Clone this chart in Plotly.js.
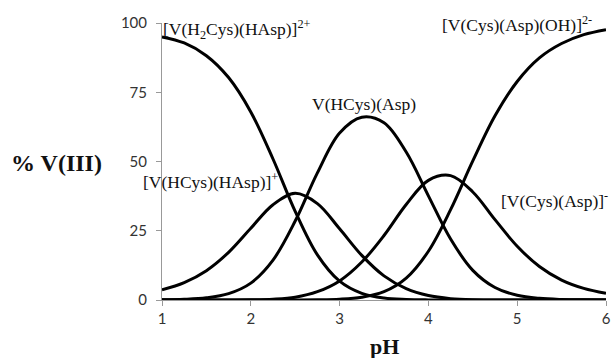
<!DOCTYPE html>
<html>
<head>
<meta charset="utf-8">
<script src="https://cdn.plot.ly/plotly-3.0.1.min.js"></script>
<style>html,body{margin:0;padding:0;background:#fff;}#chart{width:611px;height:358px;}</style>
</head>
<body>
<div id="chart"></div>
<script>
// pH values
var pH = [1,1.25,1.5,1.75,2,2.25,2.5,2.75,3,3.25,3.5,3.75,4,4.25,4.5,4.75,5,5.25,5.5,5.75,6];
// % V(III) of each species
var H2CysHAsp = [95.0,92.8,88.2,80.3,67.9,50.9,32.0,16.3,6.8,2.4,0.7,0.2,0.04,0.01,0,0,0,0,0,0,0];
var HCysHAsp  = [3.7,6.3,10.6,17.2,25.9,34.4,38.5,34.8,25.7,16.1,8.7,4.1,1.6,0.5,0.1,0.04,0.01,0,0,0,0];
var HCysAsp   = [0.09,0.26,0.79,2.3,6.1,14.4,28.5,45.9,60.3,66.0,64.0,53.4,37.6,22.0,10.7,4.5,1.7,0.6,0.2,0.07,0.02];
var CysAsp    = [0,0,0,0.02,0.07,0.3,1.0,3.0,6.9,13.7,23.3,34.5,43.2,44.9,39.0,29.0,19.4,12.1,7.2,4.2,2.4];
var CysAspOH  = [0,0,0,0,0,0,0.01,0.07,0.28,1.0,3.0,7.9,17.6,32.6,50.2,66.5,78.9,87.4,92.6,95.8,97.6];
var yTicks = [0,25,50,75,100];
var xTicks = [1,2,3,4,5,6];

var seriesList = [H2CysHAsp, HCysHAsp, HCysAsp, CysAsp, CysAspOH];
var traces = seriesList.map(function(s){
  return {x: pH, y: s, type: 'scatter', mode: 'lines',
    line: {color: '#000', width: 3, shape: 'spline', smoothing: 1},
    cliponaxis: false, hoverinfo: 'skip'};
});

var serif = 'Liberation Serif, Times New Roman, serif';
var lblFont = {family: serif, size: 17.5, color: '#111'};
function lbl(text, x, y){
  return {text: text, xref: 'paper', yref: 'paper', x: x, y: y,
    xanchor: 'left', yanchor: 'middle', showarrow: false, font: lblFont};
}

var layout = {
  width: 611, height: 358,
  margin: {l: 162, r: 5, t: 23, b: 58},
  paper_bgcolor: '#fff', plot_bgcolor: '#fff',
  showlegend: false,
  xaxis: {range: [1, 6], tickvals: xTicks, ticktext: xTicks.map(String),
    showgrid: false, zeroline: false, showline: true, linecolor: '#999', linewidth: 1,
    ticks: 'outside', ticklen: 5, tickcolor: '#999', tickwidth: 1,
    tickfont: {family: 'Lato, Open Sans, sans-serif', size: 15, color: '#333'}},
  yaxis: {range: [0, 100], tickvals: yTicks, ticktext: yTicks.map(String),
    showgrid: false, zeroline: false, showline: true, linecolor: '#999', linewidth: 1,
    ticks: 'outside', ticklen: 5, tickcolor: '#999', tickwidth: 1, ticklabelstandoff: 6,
    tickfont: {family: 'Lato, Open Sans, sans-serif', size: 15, color: '#333'}},
  annotations: [
    lbl('[V(H<sub>2</sub>Cys)(HAsp)]<sup>2+</sup>', -0.002, 0.975),
    lbl('V(HCys)(Asp)', 0.333, 0.708),
    lbl('[V(Cys)(Asp)(OH)]<sup>2-</sup>', 0.626, 0.995),
    lbl('[V(HCys)(HAsp)]<sup>+</sup>', -0.047, 0.431),
    lbl('[V(Cys)(Asp)]<sup>-</sup>', 0.758, 0.362),
    {text: '<b>% V(III)</b>', xref: 'paper', yref: 'paper', x: -0.2365, y: 0.494,
      xanchor: 'center', yanchor: 'middle', showarrow: false,
      font: {family: serif, size: 24, color: '#111'}},
    {text: '<b>pH</b>', xref: 'paper', yref: 'paper', x: 0.5, y: -0.168,
      xanchor: 'center', yanchor: 'middle', showarrow: false,
      font: {family: serif, size: 22, color: '#111'}}
  ]
};

Plotly.newPlot('chart', traces, layout, {staticPlot: true, displayModeBar: false});
</script>
</body>
</html>
